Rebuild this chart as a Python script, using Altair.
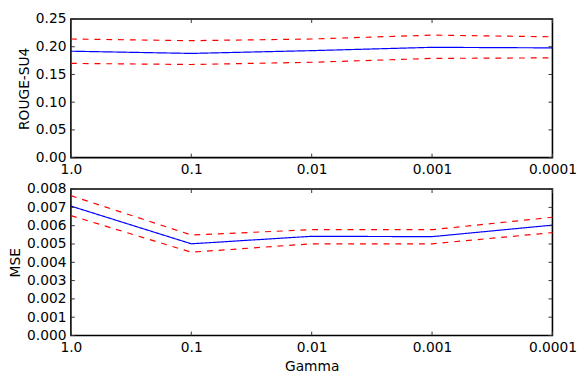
import json
import altair as alt
import pandas as pd

gammas = ["1.0", "0.1", "0.01", "0.001", "0.0001"]
rouge_mean = [0.192, 0.188, 0.193, 0.199, 0.198]
rouge_upper = [0.214, 0.211, 0.214, 0.221, 0.218]
rouge_lower = [0.170, 0.168, 0.172, 0.179, 0.180]
mse_mean = [0.00707, 0.00501, 0.00542, 0.00540, 0.00603]
mse_upper = [0.00764, 0.00549, 0.00578, 0.00578, 0.00646]
mse_lower = [0.00655, 0.00455, 0.00501, 0.00501, 0.00562]
rouge_ticks = [0.0, 0.05, 0.10, 0.15, 0.20, 0.25]
mse_ticks = [0.0, 0.001, 0.002, 0.003, 0.004, 0.005, 0.006, 0.007, 0.008]

W = 490
FONT = "DejaVu Sans"
label_expr = json.dumps(gammas) + "[datum.value]"


def long_df(mean, upper, lower):
    rows = []
    for name, vals in (("mean", mean), ("upper", upper), ("lower", lower)):
        for i, v in enumerate(vals):
            rows.append({"idx": i, "gamma": gammas[i], "series": name, "value": v})
    return pd.DataFrame(rows)


def panel(mean, upper, lower, yticks, ytitle, fmt, H, xtitle):
    df = long_df(mean, upper, lower)
    ymax = yticks[-1]
    xaxis = alt.Axis(
        values=list(range(len(gammas))), labelExpr=label_expr, grid=False,
        domain=False, ticks=False, labelPadding=5, labelFontSize=14,
        labelFont=FONT, labelColor="#000", labelOverlap=False, labelBound=False,
        labelFlush=False, title=xtitle, titleFont=FONT, titleFontSize=14,
        titleFontWeight="normal", titlePadding=6, titleColor="#000",
    )
    yaxis = alt.Axis(
        values=yticks, format=fmt, grid=False, domain=False, ticks=False,
        labelPadding=5, labelFontSize=14, labelFont=FONT, labelColor="#000",
        labelOverlap=False, labelFlush=False, labelBound=False,
        title=ytitle, titleFont=FONT, titleFontSize=14, titleFontWeight="normal",
        titlePadding=4, titleColor="#000",
    )
    xscale = alt.Scale(domain=[0, len(gammas) - 1], nice=False)
    yscale = alt.Scale(domain=[0, ymax], nice=False)
    x = alt.X("idx:Q", scale=xscale, axis=xaxis, title=xtitle)
    y = alt.Y("value:Q", scale=yscale, axis=yaxis, title=ytitle)
    lines = alt.Chart(df).mark_line(strokeWidth=1.2).encode(
        x=x, y=y,
        color=alt.Color("series:N", scale=alt.Scale(domain=["mean", "upper", "lower"],
                                                   range=["#0000ff", "#ff0000", "#ff0000"]), legend=None),
        strokeDash=alt.StrokeDash("series:N", scale=alt.Scale(domain=["mean", "upper", "lower"],
                                                             range=[[1, 0], [6, 6], [6, 6]]), legend=None),
        detail="series:N",
    )
    ydf = pd.DataFrame({"value": yticks})
    xdf = pd.DataFrame({"idx": list(range(len(gammas)))})
    tick = dict(color="#333", strokeWidth=1)
    tl = alt.Chart(ydf).mark_rule(**tick).encode(y=y, x=alt.value(0), x2=alt.value(4))
    tr = alt.Chart(ydf).mark_rule(**tick).encode(y=y, x=alt.value(W - 4), x2=alt.value(W))
    tt = alt.Chart(xdf).mark_rule(**tick).encode(x=x, y=alt.value(0), y2=alt.value(4))
    tb = alt.Chart(xdf).mark_rule(**tick).encode(x=x, y=alt.value(H - 4), y2=alt.value(H))
    return alt.layer(lines, tl, tr, tt, tb).properties(width=W, height=H)


top = panel(rouge_mean, rouge_upper, rouge_lower, rouge_ticks, "ROUGE-SU4", ".2f", 141, None)
bottom = panel(mse_mean, mse_upper, mse_lower, mse_ticks, "MSE", ".3f", 149, "Gamma")

chart = alt.vconcat(top, bottom, spacing=4).properties(
    padding={"left": 0, "top": 0, "right": 0, "bottom": 0},
    background="white",
).configure_view(stroke="#000000", strokeWidth=1.6)

chart.save("out.html", embed_options={"renderer": "svg", "actions": False})
